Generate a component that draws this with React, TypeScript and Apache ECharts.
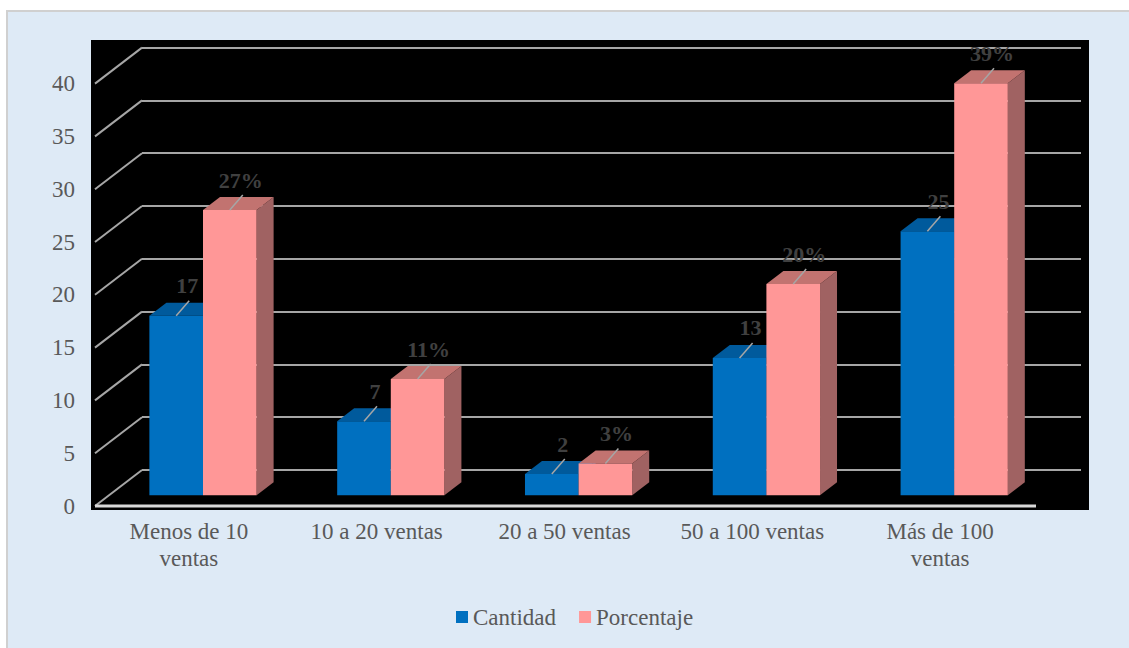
import React, { useEffect, useRef } from "react";
import * as echarts from "echarts";

const categories = [
  "Menos de 10\nventas",
  "10 a 20 ventas",
  "20 a 50 ventas",
  "50 a 100 ventas",
  "Más de 100\nventas",
];
const cantidad = [17, 7, 2, 13, 25];
const porcentaje = [27, 11, 3, 20, 39];
const yTicks = [0, 5, 10, 15, 20, 25, 30, 35, 40];
const seriesNames = ["Cantidad", "Porcentaje"];

const FONT = '"Liberation Serif", "Times New Roman", serif';
const FRONT = { left: 95, top: 83.6, width: 939, height: 422.4 };
const WALL = { dx: 47, dy: -36 };
const BAR_PLANE = 0.3;
const BAR_DEPTH = { dx: 17, dy: -13 };
const BAR_FRACTION = 0.2855;

const palette = [
  { front: "#0070C0", top: "#005A9C", side: "#004F8A" },
  { front: "#FF9797", top: "#C27370", side: "#A06262" },
];

function barGeom(api: any, k: number) {
  const i = api.value(0);
  const v = api.value(1);
  const [cx, yTop] = api.coord([i, v]);
  const yBase = api.coord([i, 0])[1];
  const bw = api.size([1, 0])[0] * BAR_FRACTION;
  const x0 = k === 0 ? cx - bw : cx;
  const x1 = x0 + bw;
  return { x0, x1, yTop, yBase, bw, v };
}

function makeBarSeries(k: number, values: number[]) {
  return {
    type: "custom",
    name: seriesNames[k],
    xAxisIndex: 2,
    yAxisIndex: 2,
    z: 3,
    itemStyle: { color: palette[k].front },
    data: values.map((v, i) => [i, v]),
    renderItem: (_params: any, api: any) => {
      const { x0, x1, yTop, yBase, bw } = barGeom(api, k);
      const { dx, dy } = BAR_DEPTH;
      const c = palette[k];
      return {
        type: "group",
        children: [
          {
            type: "polygon",
            shape: { points: [[x1, yTop], [x1 + dx, yTop + dy], [x1 + dx, yBase + dy], [x1, yBase]] },
            style: { fill: c.side },
          },
          {
            type: "polygon",
            shape: { points: [[x0, yTop], [x0 + dx, yTop + dy], [x1 + dx, yTop + dy], [x1, yTop]] },
            style: { fill: c.top },
          },
          {
            type: "rect",
            shape: { x: x0, y: yTop, width: bw, height: yBase - yTop },
            style: { fill: c.front },
          },
        ],
      };
    },
  };
}

function makeLabelSeries(k: number, values: number[], suffix: string) {
  return {
    type: "custom",
    name: seriesNames[k] + "-labels",
    xAxisIndex: 2,
    yAxisIndex: 2,
    z: 6,
    silent: true,
    data: values.map((v, i) => [i, v]),
    renderItem: (_params: any, api: any) => {
      const { x0, x1, yTop, v } = barGeom(api, k);
      const cx = (x0 + x1) / 2;
      return {
        type: "group",
        children: [
          {
            type: "line",
            shape: { x1: cx, y1: yTop, x2: cx + 13, y2: yTop - 15 },
            style: { stroke: "#A6A6A6", lineWidth: 1.5 },
          },
          {
            type: "text",
            x: cx + 11,
            y: yTop - 30,
            style: {
              text: String(v) + suffix,
              font: 'bold 22px "Liberation Serif", "Times New Roman", serif',
              fill: "#404040",
              align: "center",
              verticalAlign: "middle",
            },
          },
        ],
      };
    },
  };
}

export default function App() {
  const ref = useRef<HTMLDivElement>(null);

  useEffect(() => {
    if (!ref.current) return;
    const chart = echarts.init(ref.current, undefined, { renderer: "svg" });
    const back = { left: FRONT.left + WALL.dx, top: FRONT.top + WALL.dy };
    const bar = { left: FRONT.left + WALL.dx * BAR_PLANE, top: FRONT.top + WALL.dy * BAR_PLANE };

    const valueAxisBase = { type: "value", min: 0, max: 40, interval: 5 };

    const option: any = {
      animation: false,
      color: [palette[0].front, palette[1].front],
      graphic: [
        {
          type: "rect",
          z: -20,
          shape: { x: 7, y: 11, width: 1140, height: 660 },
          style: { fill: "#DEEAF6", stroke: "#D0D0D0", lineWidth: 2 },
        },
        {
          type: "rect",
          z: -10,
          shape: { x: 91, y: 40, width: 998, height: 470 },
          style: { fill: "#000000" },
        },
      ],
      grid: [
        { left: FRONT.left, top: FRONT.top, width: FRONT.width, height: FRONT.height },
        { left: back.left, top: back.top, width: FRONT.width, height: FRONT.height },
        { left: bar.left, top: bar.top, width: FRONT.width, height: FRONT.height },
      ],
      xAxis: [
        {
          type: "category",
          gridIndex: 0,
          data: categories,
          axisLine: { show: false },
          axisTick: { show: false },
          axisLabel: {
            interval: 0,
            margin: 12,
            color: "#595959",
            fontFamily: FONT,
            fontSize: 23,
            lineHeight: 27,
          },
        },
        { type: "value", gridIndex: 1, min: 0, max: 1, show: false },
        { type: "category", gridIndex: 2, data: categories, show: false },
      ],
      yAxis: [
        {
          ...valueAxisBase,
          gridIndex: 0,
          axisLine: { show: false },
          axisTick: { show: false },
          splitLine: { show: false },
          axisLabel: { margin: 20, color: "#595959", fontFamily: FONT, fontSize: 23 },
        },
        {
          ...valueAxisBase,
          gridIndex: 1,
          axisLine: { show: false },
          axisTick: { show: false },
          axisLabel: { show: false },
          splitLine: { show: true, lineStyle: { color: "#A6A6A6", width: 2 } },
        },
        { ...valueAxisBase, gridIndex: 2, show: false },
      ],
      legend: {
        data: seriesNames,
        left: 456,
        top: 604,
        padding: 0,
        icon: "rect",
        itemWidth: 12,
        itemHeight: 12,
        itemGap: 23,
        textStyle: { color: "#595959", fontFamily: FONT, fontSize: 23, lineHeight: 26 },
      },
      series: [
        {
          type: "custom",
          name: "walls",
          xAxisIndex: 0,
          yAxisIndex: 0,
          z: 1,
          silent: true,
          data: yTicks.map((v) => [0, v]),
          renderItem: (params: any, api: any) => {
            const cs = params.coordSys;
            const v = api.value(1);
            const y = api.coord([0, v])[1];
            const children: any[] = [
              {
                type: "line",
                shape: { x1: cs.x, y1: y, x2: cs.x + WALL.dx, y2: y + WALL.dy },
                style: { stroke: "#A6A6A6", lineWidth: 2 },
              },
            ];
            if (v === 0) {
              children.push({
                type: "line",
                shape: { x1: cs.x, y1: y, x2: cs.x + cs.width + 2, y2: y },
                style: { stroke: "#D9D9D9", lineWidth: 3 },
              });
            }
            return { type: "group", children };
          },
        },
        makeBarSeries(0, cantidad),
        makeBarSeries(1, porcentaje),
        makeLabelSeries(0, cantidad, ""),
        makeLabelSeries(1, porcentaje, "%"),
      ],
    };

    chart.setOption(option);
    return () => chart.dispose();
  }, []);

  return (
    <div
      ref={ref}
      style={{ position: "fixed", left: 0, top: 0, width: 1129, height: 648, background: "#ffffff" }}
    />
  );
}
